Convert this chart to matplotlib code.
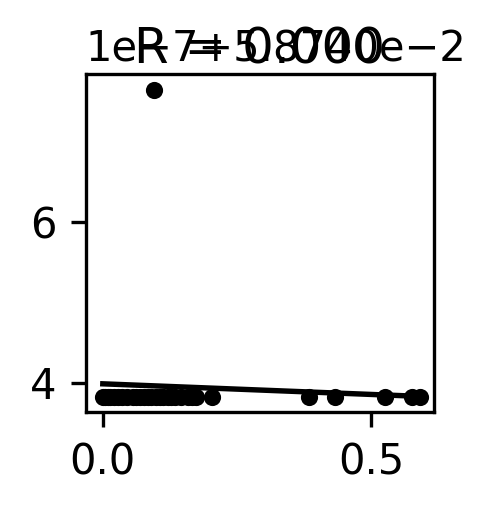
import numpy as np
import matplotlib.pyplot as plt
from matplotlib.ticker import ScalarFormatter

# many points overlap in the left cluster
x = [0.0, 0.005, 0.01, 0.013, 0.02, 0.028, 0.035, 0.045, 0.056, 0.062,
     0.069, 0.076, 0.084, 0.09, 0.1, 0.106, 0.113, 0.121, 0.128, 0.134,
     0.145, 0.159, 0.166, 0.174, 0.203, 0.384, 0.433, 0.526, 0.576, 0.591,
     0.095]
y_base = 0.0587403826
y_outlier = 0.0587407640
y = [y_base] * 30 + [y_outlier]
title = 'R = 0.000'
offset_label = '1e\u22127+5.8740e\u22122'

x = np.array(x)
y = np.array(y)


class OffsetFmt(ScalarFormatter):
    def get_offset(self):
        return offset_label


fig = plt.figure(figsize=(496 / 300, 513 / 300), dpi=300)
ax = fig.add_axes([0.173, 0.197, 0.702, 0.659])

ax.scatter(x, y, s=17, color='black', zorder=3, linewidths=0)
# least squares fit (work relative to 0.05874 to keep precision)
k, b = np.polyfit(x, (y - 0.05874) * 1e7, 1)
xx = np.array([x.min(), x.max()])
ax.plot(xx, (k * xx + b) * 1e-7 + 0.05874, color='black', lw=1.3)

ax.set_xlim(-0.0317, 0.6175)
ax.set_ylim(0.05874 + 3.64e-7, 0.05874 + 7.84e-7)
ax.set_xticks([0.0, 0.5])
ax.set_yticks([0.05874 + 4e-7, 0.05874 + 6e-7])
ax.yaxis.set_major_formatter(OffsetFmt())
ax.tick_params(labelsize=10)
ax.yaxis.get_offset_text().set_fontsize(10)
ax.set_title(title, fontsize=12, y=1.0, pad=2.5)

fig.savefig('out.png', dpi=300)
